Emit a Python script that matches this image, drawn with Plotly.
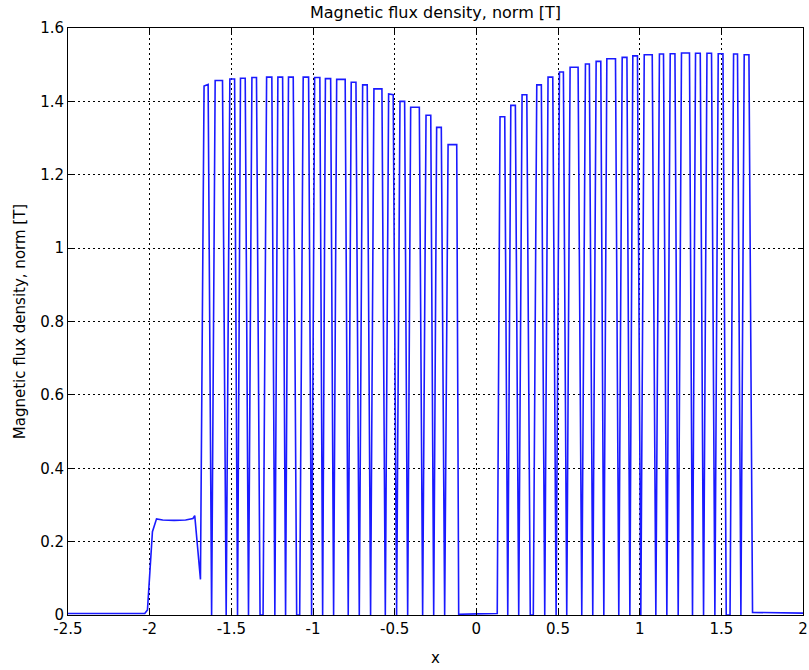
import plotly.graph_objects as go

# Trace: (x, |B|) vertices of the polyline
x_vals = [
    -2.5, -2.2, -2.03, -2.0135, -1.983, -1.958, -1.92, -1.85, -1.78, -1.735, -1.724, -1.689,
    -1.667, -1.642, -1.6207,
    -1.599, -1.554, -1.5316,
    -1.509, -1.480, -1.4620,
    -1.444, -1.415, -1.3949,
    -1.374, -1.346, -1.3241, -1.3057,
    -1.284, -1.252, -1.2335,
    -1.215, -1.186, -1.1679,
    -1.150, -1.121, -1.0999, -1.0815,
    -1.060, -1.027, -1.0086,
    -0.990, -0.958, -0.9409,
    -0.924, -0.892, -0.8738,
    -0.855, -0.803, -0.7843,
    -0.766, -0.737, -0.7166,
    -0.696, -0.668, -0.6474,
    -0.627, -0.578, -0.5573,
    -0.537, -0.509, -0.4881,
    -0.4675, -0.439, -0.4203,
    -0.402, -0.349, -0.3287,
    -0.308, -0.279, -0.2610,
    -0.243, -0.2145, -0.1939,
    -0.173, -0.120, -0.108, 0.0, 0.128,
    0.145, 0.174, 0.1924,
    0.211, 0.239, 0.2595,
    0.280, 0.309, 0.3303, 0.3487,
    0.370, 0.398, 0.4188,
    0.439, 0.468, 0.4884,
    0.509, 0.533, 0.5536,
    0.574, 0.623, 0.6455,
    0.668, 0.692, 0.7129,
    0.7335, 0.762, 0.7806,
    0.799, 0.852, 0.8722,
    0.893, 0.922, 0.9400,
    0.958, 0.9865, 1.0070,
    1.028, 1.077, 1.0990,
    1.121, 1.146, 1.1664,
    1.187, 1.216, 1.2359,
    1.256, 1.305, 1.3235,
    1.342, 1.371, 1.3912,
    1.412, 1.440, 1.4605,
    1.481, 1.510, 1.5300, 1.5533,
    1.575, 1.599, 1.6198,
    1.640, 1.669, 1.691, 1.85, 2.0,
]
y_vals = [
    0.004, 0.004, 0.004, 0.014, 0.227, 0.262, 0.259, 0.258, 0.259, 0.263, 0.271, 0.097,
    1.442, 1.446, 0.0,
    1.457, 1.457, 0.0,
    1.461, 1.461, 0.0,
    1.463, 1.463, 0.0,
    1.465, 1.465, 0.0, 0.0,
    1.466, 1.466, 0.0,
    1.466, 1.466, 0.0,
    1.466, 1.466, 0.0, 0.0,
    1.466, 1.466, 0.0,
    1.465, 1.465, 0.0,
    1.462, 1.462, 0.0,
    1.460, 1.460, 0.0,
    1.452, 1.452, 0.0,
    1.445, 1.445, 0.0,
    1.434, 1.434, 0.0,
    1.420, 1.418, 0.0,
    1.400, 1.400, 0.0,
    1.384, 1.384, 0.0,
    1.362, 1.362, 0.0,
    1.329, 1.329, 0.0,
    1.282, 1.282, 0.002, 0.003, 0.004,
    1.358, 1.358, 0.0,
    1.389, 1.389, 0.0,
    1.418, 1.418, 0.0, 0.0,
    1.445, 1.445, 0.0,
    1.466, 1.466, 0.0,
    1.480, 1.480, 0.0,
    1.493, 1.493, 0.0,
    1.502, 1.502, 0.0,
    1.509, 1.509, 0.0,
    1.516, 1.516, 0.0,
    1.520, 1.520, 0.0,
    1.524, 1.524, 0.0,
    1.527, 1.527, 0.0,
    1.529, 1.529, 0.0,
    1.530, 1.530, 0.0,
    1.532, 1.532, 0.0,
    1.531, 1.531, 0.0,
    1.531, 1.531, 0.0,
    1.530, 1.530, 0.0, 0.0,
    1.529, 1.529, 0.0,
    1.527, 1.527, 0.007, 0.006, 0.005,
]

x_ticks = [-2.5, -2, -1.5, -1, -0.5, 0, 0.5, 1, 1.5, 2]
x_tick_labels = ["-2.5", "-2", "-1.5", "-1", "-0.5", "0", "0.5", "1", "1.5", "2"]
y_ticks = [0, 0.2, 0.4, 0.6, 0.8, 1.0, 1.2, 1.4, 1.6]
y_tick_labels = ["0", "0.2", "0.4", "0.6", "0.8", "1", "1.2", "1.4", "1.6"]

title_text = "Magnetic flux density, norm [T]"
x_title = "x"
y_title = "Magnetic flux density, norm [T]"

fig = go.Figure()
fig.add_trace(go.Scatter(x=x_vals, y=y_vals, mode="lines",
                         line=dict(color="#1a1aff", width=1.6), showlegend=False))

font_family = "DejaVu Sans, Verdana, sans-serif"
axis_common = dict(
    showline=True, linecolor="black", linewidth=1, mirror="ticks",
    ticks="inside", ticklen=5, tickcolor="black",
    showgrid=True, gridcolor="black", gridwidth=1, griddash="2px,3px",
    zeroline=False, automargin=False,
    tickfont=dict(family=font_family, size=15, color="black"),
)
fig.update_xaxes(range=[-2.5, 2], tickvals=x_ticks, ticktext=x_tick_labels,
                 title=dict(text=x_title, font=dict(family=font_family, size=15, color="black"), standoff=15),
                 **axis_common)
fig.update_yaxes(range=[0, 1.6], tickvals=y_ticks, ticktext=y_tick_labels,
                 title=dict(text=y_title, font=dict(family=font_family, size=15, color="black"), standoff=10),
                 **axis_common)
fig.update_layout(
    width=809, height=670,
    margin=dict(l=68, r=6, t=28, b=55),
    paper_bgcolor="white", plot_bgcolor="white",
    title=dict(text=title_text, x=0.5, xref="paper", xanchor="center",
               y=0.982, yref="container", yanchor="middle",
               font=dict(family=font_family, size=16, color="black")),
)
fig.write_html("out.html", config={"displayModeBar": False},
               post_script="document.body.style.margin='0px';document.body.style.overflow='hidden';")
